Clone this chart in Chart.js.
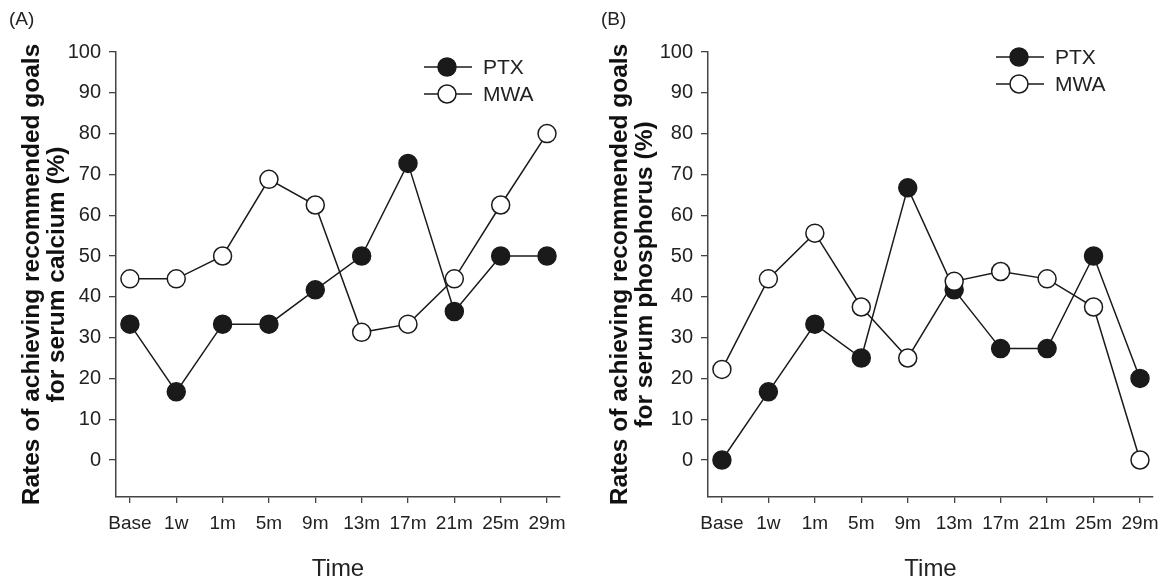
<!DOCTYPE html>
<html lang="en">
<head>
    <meta charset="UTF-8">
    <title>Rates of achieving recommended goals - PTX vs MWA</title>
    <script src="https://cdn.jsdelivr.net/npm/chart.js"></script>
    <style>
        * { margin: 0; padding: 0; box-sizing: border-box; }
        body { background: #fff; width: 1164px; height: 581px; position: relative; overflow: hidden; font-family: 'Liberation Sans', Arial, sans-serif; }
        .panel { position: absolute; top: 0; width: 582px; height: 581px; }
        .panel canvas { display: block; }
        .tag { position: absolute; top: 8px; font-size: 19px; color: #222; }
    </style>
</head>
<body>

<div class="panel" style="left:0">
    <canvas id="calcium" width="582" height="581"></canvas>
</div>
<div class="panel" style="left:582px">
    <canvas id="phosphorus" width="582" height="581"></canvas>
</div>
<div class="tag" style="left:9px">(A)</div>
<div class="tag" style="left:601px">(B)</div>

<script>
    // data
    const timeLabels = ['Base', '1w', '1m', '5m', '9m', '13m', '17m', '21m', '25m', '29m'];
    const yTicks = [0, 10, 20, 30, 40, 50, 60, 70, 80, 90, 100];
    const calciumPTX = [33.3, 16.7, 33.3, 33.3, 41.7, 50, 72.7, 36.4, 50, 50];
    const calciumMWA = [44.4, 44.4, 50, 68.8, 62.5, 31.3, 33.3, 44.4, 62.5, 80];
    const phosphorusPTX = [0, 16.7, 33.3, 25, 66.7, 41.7, 27.3, 27.3, 50, 20];
    const phosphorusMWA = [22.2, 44.4, 55.6, 37.5, 25, 43.8, 46.2, 44.4, 37.5, 0];

    const ink = '#1a1a1a';
    const axisInk = '#444';
    const font = "'Liberation Sans', Arial, sans-serif";

    // little key in the top right corner (line + marker + name)
    const keyBox = {
        id: 'keyBox',
        afterDraw(chart) {
            const o = chart.options.plugins.keyBox;
            const ctx = chart.ctx;
            const sets = chart.data.datasets.slice().sort((a, b) => b.order - a.order);
            ctx.save();
            sets.forEach((ds, i) => {
                const y = o.y + i * 27;
                ctx.strokeStyle = ds.borderColor;
                ctx.lineWidth = ds.borderWidth;
                ctx.beginPath();
                ctx.moveTo(o.x, y);
                ctx.lineTo(o.x + 48, y);
                ctx.stroke();
                ctx.beginPath();
                ctx.arc(o.x + 23, y, ds.pointRadius, 0, Math.PI * 2);
                ctx.fillStyle = ds.pointBackgroundColor;
                ctx.fill();
                ctx.lineWidth = ds.pointBorderWidth;
                ctx.strokeStyle = ds.pointBorderColor;
                ctx.stroke();
                ctx.fillStyle = '#222';
                ctx.font = '21px ' + font;
                ctx.textBaseline = 'middle';
                ctx.fillText(ds.label, o.x + 59, y + 1);
            });
            ctx.restore();
        }
    };

    function toPoints(arr) {
        return arr.map((v, i) => ({ x: i, y: v }));
    }

    function series(label, values, fill, order) {
        return {
            label: label,
            data: toPoints(values),
            order: order,
            borderColor: ink,
            borderWidth: 1.5,
            pointRadius: 9,
            pointHoverRadius: 9,
            pointBackgroundColor: fill,
            pointBorderColor: ink,
            pointBorderWidth: 1.5,
            tension: 0,
            clip: false
        };
    }

    function makeChart(id, ptx, mwa, cfg) {
        new Chart(document.getElementById(id), {
            type: 'line',
            data: {
                datasets: [
                    series('PTX', ptx, ink, 2),
                    series('MWA', mwa, '#fff', 1)
                ]
            },
            options: {
                responsive: false,
                animation: false,
                devicePixelRatio: 1,
                layout: { padding: { top: 52, right: cfg.padRight, left: 0, bottom: 0 } },
                plugins: {
                    legend: { display: false },
                    tooltip: { enabled: false },
                    keyBox: { x: cfg.keyX, y: cfg.keyY }
                },
                scales: {
                    x: {
                        type: 'linear',
                        min: -0.3,
                        max: 9.28,
                        afterBuildTicks: s => { s.ticks = timeLabels.map((_, i) => ({ value: i })); },
                        afterFit: s => { s.height = 84; s.paddingLeft = 0; s.paddingRight = 0; },
                        ticks: {
                            callback: v => timeLabels[v],
                            autoSkip: false,
                            maxRotation: 0,
                            padding: 9,
                            color: '#222',
                            font: { family: font, size: 19 }
                        },
                        grid: { drawOnChartArea: false, tickLength: 6, color: axisInk, lineWidth: 1.3 },
                        border: { color: axisInk, width: 1.5 },
                        title: {
                            display: true,
                            text: 'Time',
                            color: '#222',
                            font: { family: font, size: 24, lineHeight: 1 },
                            padding: { top: 0, bottom: 0 }
                        }
                    },
                    y: {
                        min: -9.07,
                        max: 100,
                        afterBuildTicks: s => { s.ticks = yTicks.map(v => ({ value: v })); },
                        afterFit: s => { s.width = cfg.axisWidth; s.paddingTop = 0; s.paddingBottom = 0; },
                        ticks: {
                            padding: 8,
                            color: '#222',
                            font: { family: font, size: 20 }
                        },
                        grid: { drawOnChartArea: false, tickLength: 7, color: axisInk, lineWidth: 1.3 },
                        border: { color: axisInk, width: 1.5 },
                        title: {
                            display: true,
                            text: cfg.title,
                            color: '#111',
                            font: { family: font, size: 24.5, weight: 'bold', lineHeight: 1.02 },
                            padding: { top: cfg.titlePad }
                        }
                    }
                }
            },
            plugins: [keyBox]
        });
    }

    makeChart('calcium', calciumPTX, calciumMWA, {
        axisWidth: 116, titlePad: 20, padRight: 22, keyX: 424, keyY: 67,
        title: ['Rates of achieving recommended goals', 'for serum calcium (%)']
    });

    makeChart('phosphorus', phosphorusPTX, phosphorusMWA, {
        axisWidth: 126, titlePad: 26, padRight: 11, keyX: 414, keyY: 57,
        title: ['Rates of achieving recommended goals', 'for serum phosphorus (%)']
    });
</script>

</body>
</html>
